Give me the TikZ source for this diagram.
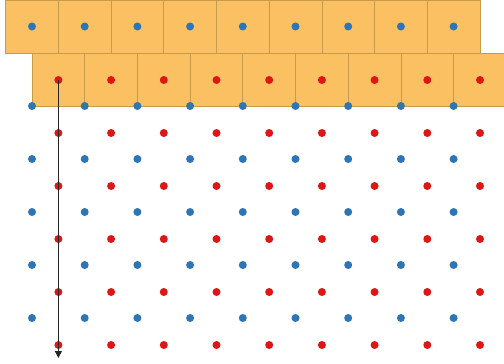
\documentclass[tikz,border=0pt]{standalone}
\usetikzlibrary{arrows.meta}
\definecolor{boxfill}{RGB}{250,192,98}
\definecolor{boxline}{RGB}{200,155,75}
\definecolor{dotblue}{RGB}{46,117,182}
\definecolor{dotred}{RGB}{222,22,22}
\tikzset{
  cellbox/.style={draw=boxline, fill=boxfill, line width=0.8pt},
  bluedot/.style={circle, fill=dotblue, inner sep=0pt, minimum size=8pt},
  reddot/.style={circle, fill=dotred, inner sep=0pt, minimum size=8pt},
  downarrow/.style={draw=black!85, line width=1.3pt, -{Triangle[length=7pt,width=7pt]}}
}
\begin{document}
\begin{tikzpicture}[x=1pt,y=-1pt]
\useasboundingbox (0,0) rectangle (504,364);
\begin{scope}
\clip (0,0) rectangle (504,364);
% top row of cells (boundaries at red x positions)
\foreach \i in {0,...,8} {
  \path[cellbox] ({5.7+52.7*\i},0.5) rectangle ({5.7+52.7*(\i+1)},53);
}
% second row of cells (boundaries at blue x positions)
\foreach \i in {0,...,8} {
  \path[cellbox] ({32+52.7*\i},53) rectangle ({32+52.7*(\i+1)},106);
}
% dots in top row
\foreach \i in {0,...,8} {
  \node[bluedot] (t\i) at ({32+52.7*\i},26.5) {};
}
% red rows
\foreach \k in {0,...,5} {
  \foreach \i in {0,...,8} {
    \node[reddot] (r\k-\i) at ({58.4+52.7*\i},{80+53*\k}) {};
  }
}
% blue rows
\foreach \k in {0,...,4} {
  \foreach \i in {0,...,8} {
    \node[bluedot] (b\k-\i) at ({32+52.7*\i},{106+53*\k}) {};
  }
}
\coordinate (arrowend) at (58.4,358);
\draw[downarrow] (r0-0.center) -- (arrowend);
\end{scope}
\end{tikzpicture}
\end{document}
